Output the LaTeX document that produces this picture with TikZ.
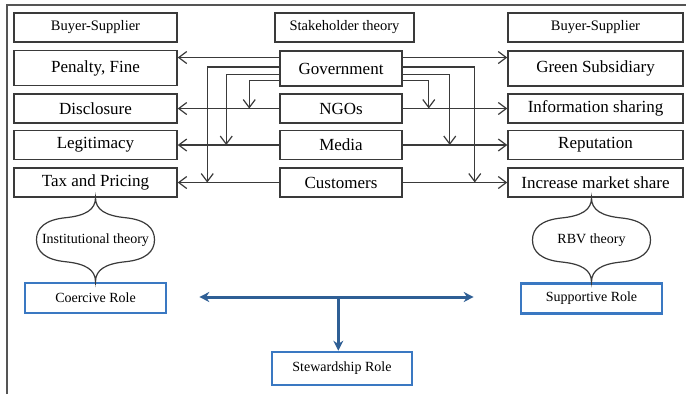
\documentclass[tikz,border=0pt]{standalone}
\usepackage{fontspec}
\setmainfont{Liberation Serif}
\usepackage{tikz}
\usetikzlibrary{
  arrows.meta,
  positioning,
  calc
}
\definecolor{framegray}{HTML}{555555}
\definecolor{linegray}{HTML}{3A3A3A}
\definecolor{roleblue}{HTML}{3A78C2}
\definecolor{arrowblue}{HTML}{2F5F95}

\tikzset{
  theory/.pic={
    \draw[linegray, line width=1.2pt]
      (0,-42) .. controls (0,-30) and (-10,-24) .. (-30,-22)
              .. controls (-50,-20) and (-59,-12) .. (-59,0)
              .. controls (-59,12) and (-50,20) .. (-30,22)
              .. controls (-10,24) and (0,30) .. (0,42)
              .. controls (0,30) and (10,24) .. (30,22)
              .. controls (50,20) and (59,12) .. (59,0)
              .. controls (59,-12) and (50,-20) .. (30,-22)
              .. controls (10,-24) and (0,-30) .. (0,-42) -- cycle;
    \node[font=\fontsize{14}{16}\selectfont] at (0,0) {#1};
  }
}

\begin{document}
\begin{tikzpicture}[
  x=1pt, y=-1pt,
  head/.style={draw=linegray, line width=1.5pt, minimum height=29pt, font=\fontsize{14.5}{16}\selectfont, inner sep=0pt},
  item/.style={draw=linegray, line width=1.5pt, minimum height=29pt, font=\fontsize{17}{19}\selectfont, inner sep=0pt},
  role/.style={draw=roleblue, line width=2.6pt, minimum width=141pt, minimum height=30pt, font=\fontsize{14}{16}\selectfont, inner sep=0pt},
  arr/.style={draw=linegray, line width=1.2pt, -{Straight Barb[length=8pt,width=12pt]}},
  barr/.style={draw=arrowblue, line width=3pt, -{Stealth[length=10pt,width=10pt]}},
]
  \useasboundingbox (0,0) rectangle (686,394);
  \draw[framegray, line width=1.5pt] (7,394) -- (7,5) -- (686,5);

  % Headers
  \node[head, minimum width=163pt] (bsl) at (95.5,27.5) {Buyer-Supplier};
  \node[head, minimum width=139pt] (sth) at (344.5,27.5) {Stakeholder theory};
  \node[head, minimum width=175pt] (bsr) at (595.5,27.5) {Buyer-Supplier};

  % Left column
  \node[item, minimum width=163pt, minimum height=35pt] (pen) at (95.5,68) {Penalty, Fine};
  \node[item, minimum width=163pt] (dis) at (95.5,108.5) {Disclosure};
  \node[item, minimum width=163pt] (leg) at (95.5,145) {Legitimacy};
  \node[item, minimum width=163pt] (tax) at (95.5,182.5) {Tax and Pricing};

  % Stakeholders
  \node[item, minimum width=122pt, minimum height=35pt] (gov) at (341,68.5) {Government};
  \node[item, minimum width=122pt] (ngo) at (341,108.5) {NGOs};
  \node[item, minimum width=122pt] (med) at (341,145) {Media};
  \node[item, minimum width=122pt] (cus) at (341,182.5) {Customers};

  % Right column
  \node[item, minimum width=175pt, minimum height=35pt] (grs) at (595.5,68.5) {Green Subsidiary};
  \node[item, minimum width=175pt] (inf) at (595.5,108.5) {Information sharing};
  \node[item, minimum width=175pt] (rep) at (595.5,145) {Reputation};
  \node[item, minimum width=175pt] (ims) at (595.5,182.5) {Increase market share};

  % Roles
  \node[role] (coe) at (95.5,298) {Coercive Role};
  \node[role] (sup) at (591.5,298.5) {Supportive Role};
  \node[role, minimum width=140pt, minimum height=33pt] (stw) at (342,368.5) {Stewardship Role};

  % Government outlets
  \coordinate (gl1) at ($(gov.north west)!.2!(gov.south west)$);
  \coordinate (gl2) at ($(gov.north west)!.46!(gov.south west)$);
  \coordinate (gl3) at ($(gov.north west)!.66!(gov.south west)$);
  \coordinate (gl4) at ($(gov.north west)!.83!(gov.south west)$);
  \coordinate (gr1) at ($(gov.north east)!.2!(gov.south east)$);
  \coordinate (gr2) at ($(gov.north east)!.46!(gov.south east)$);
  \coordinate (gr3) at ($(gov.north east)!.66!(gov.south east)$);
  \coordinate (gr4) at ($(gov.north east)!.83!(gov.south east)$);

  % Stakeholders to the left
  \draw[arr] (gl1) -- (gl1 -| pen.east);
  \draw[arr] (ngo) -- (dis);
  \draw[arr] (med) -- (leg);
  \draw[arr] (cus) -- (tax);
  \draw[arr] (gl2) -| ($(cus.west)+(-72,0)$);
  \draw[arr] (gl3) -| ($(med.west)+(-53,0)$);
  \draw[arr] (gl4) -| ($(ngo.west)+(-30,0)$);

  % Stakeholders to the right
  \draw[arr] (gr1) -- (gr1 -| grs.west);
  \draw[arr] (ngo) -- (inf);
  \draw[arr] (med) -- (rep);
  \draw[arr] (cus) -- (ims);
  \draw[arr] (gr2) -| ($(cus.east)+(72,0)$);
  \draw[arr] (gr3) -| ($(med.east)+(47,0)$);
  \draw[arr] (gr4) -| ($(ngo.east)+(26,0)$);

  % Theories
  \pic at ($(tax.south)!.5!(coe.north)$) {theory={Institutional theory}};
  \pic at ($(ims.south -| sup)!.5!(sup.north)$) {theory={RBV theory}};

  % Roles
  \coordinate (mid) at ($(coe.east)+(171,-1)$);
  \draw[barr] (mid) -- ($(coe.east)+(32,-1)$);
  \draw[barr] (mid) -- ($(sup.west)+(-46,-1.5)$);
  \draw[barr] (mid) -- (stw.north -| mid);
\end{tikzpicture}
\end{document}
